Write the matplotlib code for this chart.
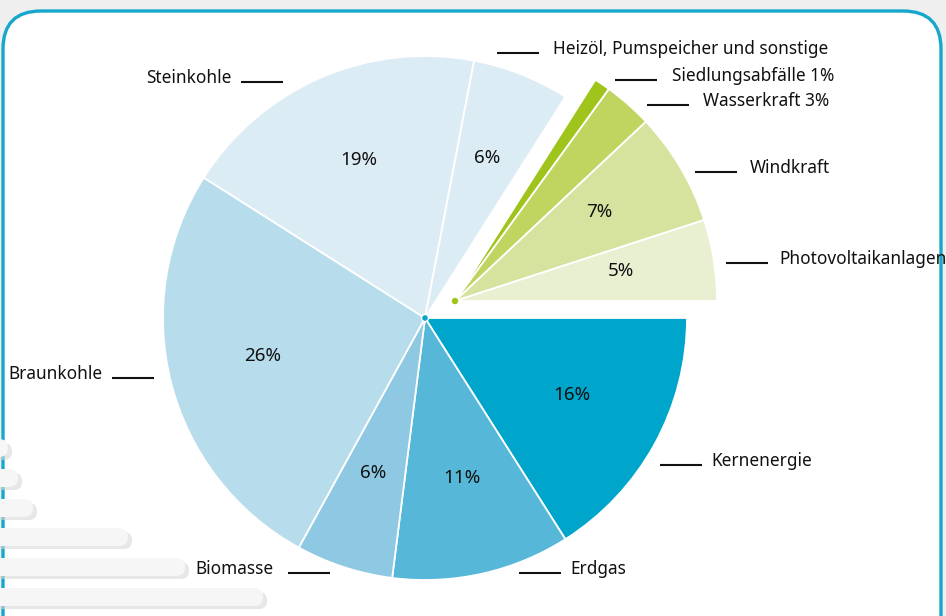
import matplotlib
matplotlib.use("Agg")
import matplotlib.pyplot as plt
from matplotlib.patches import FancyBboxPatch, Circle
import numpy as np

# ---- data ----
categories = ["Kernenergie", "Erdgas", "Biomasse", "Braunkohle", "Steinkohle",
              "Heizöl, Pumspeicher und sonstige", "Siedlungsabfälle 1%",
              "Wasserkraft 3%", "Windkraft", "Photovoltaikanlagen"]
shares = [16, 11, 6, 26, 19, 6, 1, 3, 7, 5]
pct_labels = ["16%", "11%", "6%", "26%", "19%", "6%", "", "", "7%", "5%"]
renewable = [False, False, False, False, False, False, True, True, True, True]
colors = ["#00a5cb", "#56b7d8", "#8ec8e2", "#b7dceb", "#dcecf5", "#dcecf5",
          "#9fc41c", "#bfd55f", "#d6e39e", "#e9f0d2"]

W, H = 946, 616
fig = plt.figure(figsize=(W / 100, H / 100), dpi=100)
fig.patch.set_facecolor("#efefef")
ax = fig.add_axes([0, 0, 1, 1])

def Y(y):
    return H - y

FONT = "Noto Sans"

# background card
card = FancyBboxPatch((3, -40), 938, Y(11) + 40,
                      boxstyle="round,pad=0,rounding_size=38",
                      facecolor="white", edgecolor="#16a8cc", linewidth=2.4, zorder=0)
ax.add_patch(card)

# decorative bars at lower left
bars_y = [448, 478, 508, 537, 567, 597]
bars_x = [8, 18, 33, 128, 185, 263]
for by, bx in zip(bars_y, bars_x):
    sh = FancyBboxPatch((-20, Y(by) - 12), bx + 24, 17,
                        boxstyle="round,pad=0,rounding_size=8",
                        facecolor="#d8d8d8", edgecolor="none", alpha=0.6, zorder=1)
    ax.add_patch(sh)
    b = FancyBboxPatch((-20, Y(by) - 9), bx + 20, 18,
                       boxstyle="round,pad=0,rounding_size=9",
                       facecolor="#f6f6f6", edgecolor="none", zorder=1.1)
    ax.add_patch(b)

# pie
cx, cy = 425, Y(318)
R = 262
dx, dy = 30, 17
wedges, _ = ax.pie(shares, colors=colors, startangle=0, counterclock=False,
                   radius=R, center=(cx, cy),
                   wedgeprops=dict(edgecolor="white", linewidth=1.3), frame=True)
for w, ren in zip(wedges, renewable):
    w.set_zorder(2)
    if ren:
        w.set_center((cx + dx, cy + dy))

for w, lab in zip(wedges, pct_labels):
    if not lab:
        continue
    mid = np.deg2rad((w.theta1 + w.theta2) / 2)
    ccx, ccy = w.center
    ax.text(ccx + 0.64 * R * np.cos(mid), ccy + 0.64 * R * np.sin(mid) + 4, lab,
            ha="center", va="center", fontsize=13.5, family=FONT, color="#111111", zorder=5)

ax.add_patch(Circle((cx, cy), 3.5, facecolor="#0aa3cb", edgecolor="white", lw=1, zorder=6))
ax.add_patch(Circle((cx + dx, cy + dy), 3.2, facecolor="#9fc41c", edgecolor="none", zorder=6))

# outer labels with leader lines: (text, line x0, line x1, line y, text x, side)
outer = [
    (categories[4], 241, 283, 82, 231, "left"),
    (categories[3], 112, 154, 378, 102, "left"),
    (categories[2], 288, 330, 573, 273, "left"),
    (categories[5], 497, 539, 53, 553, "right"),
    (categories[6], 615, 657, 80, 672, "right"),
    (categories[7], 647, 689, 105, 703, "right"),
    (categories[8], 695, 737, 172, 750, "right"),
    (categories[9], 726, 768, 263, 779, "right"),
    (categories[0], 660, 702, 465, 711, "right"),
    (categories[1], 519, 561, 573, 570, "right"),
]
for txt, x0, x1, ly, tx, side in outer:
    ax.plot([x0, x1], [Y(ly), Y(ly)], color="#111111", lw=1.5, zorder=5,
            solid_capstyle="butt")
    ax.text(tx, Y(ly) + 4, txt, ha="right" if side == "left" else "left",
            va="center", fontsize=12.4, family=FONT, color="#111111", zorder=5)

ax.set_xlim(0, W)
ax.set_ylim(0, H)
ax.set_aspect("equal")
ax.axis("off")
fig.savefig("out.png", dpi=100, facecolor=fig.get_facecolor())
